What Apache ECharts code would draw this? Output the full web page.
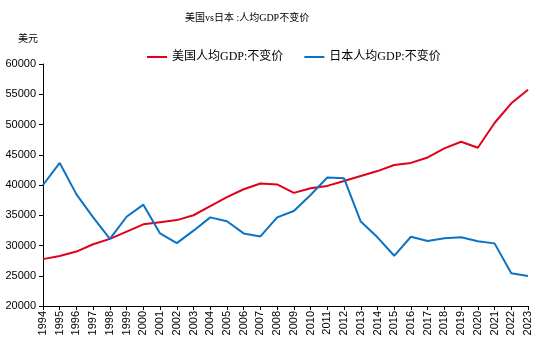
<!DOCTYPE html>
<html><head><meta charset="utf-8">
<script src="https://cdn.jsdelivr.net/npm/echarts@6/dist/echarts.min.js"></script>
<style>html,body{margin:0;padding:0;background:#fff}#c{width:554px;height:357px}</style>
</head><body><div id="c"></div>
<script>
const years = ['1994','1995','1996','1997','1998','1999','2000','2001','2002','2003','2004','2005','2006','2007','2008','2009','2010','2011','2012','2013','2014','2015','2016','2017','2018','2019','2020','2021','2022','2023'];
const usGDP = [27750,28250,29000,30200,31100,32300,33500,33850,34200,35000,36500,38000,39300,40250,40100,38700,39450,39850,40650,41500,42300,43300,43650,44550,46050,47150,46150,50250,53500,55750];
const jpGDP = [40000,43650,38450,34650,31100,34750,36750,32000,30400,32450,34650,34000,32000,31500,34650,35700,38350,41250,41100,33950,31350,28300,31450,30750,31200,31350,30700,30350,25400,24950];
const seriesNames = ['美国人均GDP:不变价','日本人均GDP:不变价'];
const titleText = '美国vs日本 :人均GDP不变价';
const unitText = '美元';

const chart = echarts.init(document.getElementById('c'));
const txtFont = "'Liberation Serif','Noto Sans CJK SC',serif";
chart.setOption({
  animation:false,
  title:{text:titleText,left:180,top:8,textStyle:{fontSize:10,fontWeight:'normal',color:'#000',fontFamily:txtFont}},
  legend:{top:46,left:142,itemWidth:20,itemHeight:2,itemGap:21,
    textStyle:{fontSize:12,color:'#000',fontFamily:txtFont},
    data:[{name:seriesNames[0],icon:'rect'},{name:seriesNames[1],icon:'rect'}]},
  grid:{left:43,right:26,top:64,bottom:51},
  xAxis:{type:'category',data:years,boundaryGap:false,
    axisLine:{lineStyle:{color:'#000',width:1}},
    axisTick:{alignWithLabel:true,length:4,lineStyle:{color:'#000'}},
    axisLabel:{rotate:90,interval:0,fontSize:11,color:'#000',fontFamily:"'Liberation Sans',sans-serif",margin:5}},
  yAxis:{type:'value',min:20000,max:60000,interval:5000,name:unitText,
    nameLocation:'end',nameGap:20,nameTextStyle:{fontSize:10,color:'#000',fontFamily:txtFont,align:'center',padding:[0,0,0,-30]},
    axisLine:{show:true,lineStyle:{color:'#000'}},
    axisTick:{show:true,length:4,lineStyle:{color:'#000'}},
    splitLine:{show:false},
    axisLabel:{fontSize:11,color:'#000',fontFamily:"'Liberation Sans',sans-serif",margin:7,formatter:function(v){return String(v);}}},
  series:[
    {name:seriesNames[0],type:'line',data:usGDP,symbol:'none',lineStyle:{color:'#e0001b',width:2},itemStyle:{color:'#e0001b'}},
    {name:seriesNames[1],type:'line',data:jpGDP,symbol:'none',lineStyle:{color:'#0b72c4',width:2},itemStyle:{color:'#0b72c4'}}
  ]
});
</script></body></html>
